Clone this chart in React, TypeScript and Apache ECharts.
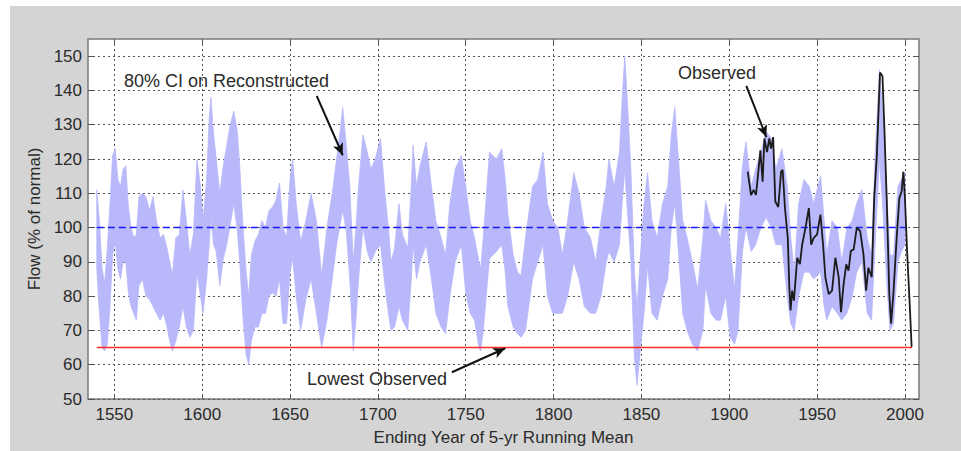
import React, { useEffect, useRef } from "react";
import * as echarts from "echarts";

// 80% confidence interval on the reconstructed flow (% of normal)
const bandYears = [
  1540, 1541.5, 1543, 1544.5, 1546, 1547.5, 1549, 1550.5, 1552, 1553.5, 1555, 1556.5, 1558, 1559.5, 1561, 1562.5,
  1564, 1566, 1568, 1570, 1572, 1574, 1576, 1578, 1580, 1581.5, 1583, 1585, 1587, 1589, 1591, 1593, 1595, 1597,
  1599, 1600.5, 1602.5, 1604, 1605, 1606.5, 1608, 1610, 1612, 1614, 1616, 1618, 1620, 1621.5, 1623, 1625, 1626.5,
  1628, 1630, 1632, 1634, 1636, 1638, 1640, 1642, 1644, 1646, 1648, 1650, 1651.5, 1653.5, 1656, 1659, 1662, 1665,
  1668, 1671, 1674, 1676.5, 1678.5, 1680, 1682, 1684, 1686, 1687.5, 1689, 1691.5, 1694, 1696, 1698.5, 1701.5, 1704,
  1706, 1707.5, 1709.5, 1712, 1714, 1717, 1719, 1720, 1722, 1724, 1727.5, 1730.5, 1733, 1736, 1738.5, 1741, 1744,
  1747.5, 1750, 1752.5, 1755, 1757.5, 1758.5, 1760, 1763.5, 1767.5, 1770.5, 1772.5, 1774, 1777, 1779.5, 1781.5,
  1784, 1788, 1791, 1794, 1796.5, 1799.5, 1802.5, 1805, 1808, 1811.5, 1814.5, 1817.5, 1821, 1824, 1827, 1830,
  1831.5, 1834.5, 1837.5, 1839, 1840.5, 1842, 1844, 1846, 1847.5, 1849.5, 1851.5, 1853.5, 1856, 1859, 1862, 1865,
  1867, 1869, 1871.5, 1873.5, 1876, 1879, 1882, 1885, 1886.5, 1889.5, 1892.5, 1895, 1898, 1900.5, 1903, 1905,
  1907.5, 1909.5, 1912.5, 1915, 1918, 1921, 1924, 1926.5, 1930, 1933, 1935, 1937, 1939.5, 1942.5, 1945.5, 1948,
  1952, 1954, 1955.5, 1958.5, 1961.5, 1964, 1967, 1970, 1972.5, 1975.5, 1978.5, 1981, 1983, 1985.5, 1987.5,
  1989.5, 1991.5, 1993.5, 1996, 1998, 2000,
];
const bandUpper = [
  111, 102, 88, 84, 94, 107, 121, 123, 114, 112, 117, 118, 106, 100, 97, 98,
  109, 110, 109, 105, 109, 102, 97, 98, 94, 90, 86, 97, 98, 111, 102, 92, 98, 120,
  112, 102, 114, 132, 138, 127, 120, 110, 118, 124, 130, 134, 128, 117, 102, 87, 80,
  92, 96, 98, 102, 100, 105, 106, 108, 113, 100, 97, 114, 120, 107, 96, 102, 110, 102,
  86, 100, 110, 120, 128, 135, 124, 112, 90, 100, 112, 127, 122, 117, 120, 126, 110,
  100, 90, 94, 107, 98, 94, 112, 124, 112, 118, 125, 112, 102, 97, 92, 107, 117,
  121, 112, 102, 97, 90, 88, 97, 122, 120, 123, 114, 104, 92, 87, 86,
  97, 112, 114, 122, 107, 102, 100, 92, 102, 116, 110, 100, 97, 90, 102, 112,
  120, 112, 122, 137, 150, 137, 117, 87, 77, 92, 107, 116, 102, 97, 107, 112,
  127, 135, 117, 102, 97, 90, 82, 97, 108, 102, 100, 97, 107, 94, 82, 97,
  118, 125, 112, 117, 122, 128, 126, 117, 123, 112, 97, 87, 107, 114, 112, 107,
  115, 102, 92, 102, 100, 90, 100, 102, 107, 111, 97, 92, 121, 146, 132,
  112, 92, 92, 112, 114, 116,
];
const bandLower = [
  88, 75, 65, 64, 66, 77, 92, 96, 88, 85, 90, 90, 81, 77, 75, 73,
  83, 85, 80, 79, 77, 75, 73, 75, 71, 67, 64, 67, 71, 77, 71, 68, 70, 87,
  80, 75, 85, 95, 103, 95, 93, 83, 91, 95, 101, 107, 99, 89, 75, 63, 60,
  67, 71, 71, 75, 75, 80, 81, 80, 85, 72, 72, 87, 91, 80, 70, 79, 85, 75,
  65, 73, 85, 95, 101, 105, 99, 85, 64, 73, 85, 100, 93, 90, 93, 95, 83,
  75, 70, 71, 77, 73, 70, 85, 95, 85, 90, 95, 85, 75, 71, 69, 80, 90,
  95, 81, 75, 73, 65, 64, 70, 91, 93, 95, 87, 77, 71, 69, 68,
  70, 85, 90, 95, 80, 75, 75, 75, 80, 90, 85, 77, 75, 75, 80, 90,
  93, 90, 95, 107, 117, 105, 90, 62, 54, 65, 75, 89, 75, 73, 80, 85,
  100, 107, 90, 75, 70, 66, 64, 70, 83, 75, 73, 73, 80, 68, 66, 70,
  93, 100, 93, 95, 100, 103, 100, 95, 95, 80, 72, 70, 80, 87, 87, 85,
  87, 77, 73, 77, 75, 73, 75, 80, 87, 90, 75, 73, 95, 120, 105,
  85, 70, 72, 90, 93, 95,
];

// Observed flow, 5-yr running mean (% of normal)
const obsYears = [
  1910.5, 1912.4, 1913.9, 1915.2, 1916.5, 1917.7, 1919, 1920, 1921.5, 1922.8, 1923.8, 1925, 1926.2, 1927.9,
  1929.5, 1930.4, 1931.7, 1933.3, 1934.2, 1934.9, 1935.8, 1936.8, 1938.7, 1940.2, 1941.5, 1943.4, 1945.3,
  1946.6, 1948.1, 1950, 1951.9, 1953.4, 1954.7, 1956.6, 1958.5, 1960.4, 1962.3, 1963.6, 1965.1, 1966.6, 1967.9,
  1969.2, 1970.8, 1972.6, 1974.5, 1976.4, 1977.9, 1979.2, 1981.1, 1982.5, 1984, 1985.8, 1987.2, 1988.3, 1989.6,
  1991.1, 1992.1, 1993.4, 1995.3, 1996.8, 1998.1, 1999.1, 2000, 2001.3, 2002.8, 2003.8,
];
const obsFlow = [
  116.3, 109.5, 111, 109.5, 116, 122.5, 113.4, 126, 122, 126, 123, 126.4, 107.6, 106,
  116.3, 116.8, 105.7, 97, 82.6, 75.8, 81.6, 78.7, 91.2, 89.3, 95, 100, 105.7,
  95, 97, 98, 103.8, 95, 85.5, 80.6, 81.6, 91.2, 85.5, 75.3, 83.5, 89.3, 87.4,
  93.2, 93.6, 100, 99, 92.2, 81.6, 88.3, 85.5, 108.6, 121, 145.2, 144.2, 128.8, 108.6,
  80.6, 72, 80.6, 97, 108.6, 110.5, 116.3, 108.6, 92.2, 76.8, 65.2,
];

const normalYears = [1540, 2001];
const normalFlow = [100, 100];
const lowestYears = [1540, 2004];
const lowestFlow = [65, 65];

const xTicks = [1550, 1600, 1650, 1700, 1750, 1800, 1850, 1900, 1950, 2000];
const yTicks = [50, 60, 70, 80, 90, 100, 110, 120, 130, 140, 150];

const xTitle = "Ending Year of 5-yr Running Mean";
const yTitle = "Flow (% of normal)";
const ciLabel = "80% CI on Reconstructed";
const obsLabel = "Observed";
const lowLabel = "Lowest Observed";

const FONT = "'Liberation Sans', Arial, sans-serif";
const TXT = "#2b2b2b";

export default function App() {
  const ref = useRef<HTMLDivElement>(null);
  useEffect(() => {
    if (!ref.current) return;
    const chart = echarts.init(ref.current, undefined, { renderer: "svg" });
    const zip = (xs: number[], ys: number[]) => xs.map((x, i) => [x, ys[i]]);
    const tickStyle = { color: "#555", width: 1 };
    const arrow = (a: number[], b: number[]) => [
      { coord: a, symbol: "none" },
      { coord: b, symbol: "arrow" },
    ];
    chart.setOption({
      animation: false,
      backgroundColor: "#ffffff",
      textStyle: { fontFamily: FONT },
      graphic: [
        { type: "rect", z: -10, shape: { x: 10, y: 6, width: 951, height: 445 }, style: { fill: "#d4d4d4" } },
        { type: "text", x: 124, y: 81, style: { text: ciLabel, font: `18px ${FONT}`, fill: TXT, verticalAlign: "middle" } },
        { type: "text", x: 678, y: 73, style: { text: obsLabel, font: `18px ${FONT}`, fill: TXT, verticalAlign: "middle" } },
        { type: "text", x: 307, y: 379, style: { text: lowLabel, font: `18px ${FONT}`, fill: TXT, verticalAlign: "middle" } },
      ],
      grid: {
        left: 88, top: 39, right: 42, bottom: 48,
        show: true, backgroundColor: "#ffffff", borderColor: "#7a7a7a", borderWidth: 1.5,
      },
      xAxis: [
        {
          type: "value", min: 1535, max: 2008, position: "bottom",
          name: xTitle, nameLocation: "middle", nameGap: 30,
          nameTextStyle: { fontSize: 17, color: TXT, fontFamily: FONT },
          axisLine: { show: false },
          axisTick: { inside: true, length: 5, customValues: xTicks, lineStyle: tickStyle },
          axisLabel: {
            customValues: xTicks, fontSize: 17, color: TXT, margin: 7, fontFamily: FONT,
            formatter: (v: number) => String(v),
          },
          splitLine: { show: true, lineStyle: { type: [2, 3], color: "#555", width: 1 } },
        },
        {
          type: "value", min: 1535, max: 2008, position: "top",
          axisLine: { show: false },
          axisTick: { inside: true, length: 5, customValues: xTicks, lineStyle: tickStyle },
          axisLabel: { show: false },
          splitLine: { show: false },
        },
      ],
      yAxis: [
        {
          type: "value", min: 50, max: 155, position: "left",
          name: yTitle, nameLocation: "middle", nameGap: 44,
          nameTextStyle: { fontSize: 17, color: TXT, fontFamily: FONT },
          axisLine: { show: false },
          axisTick: { inside: true, length: 5, customValues: yTicks, lineStyle: tickStyle },
          axisLabel: { customValues: yTicks, fontSize: 17, color: TXT, margin: 6, fontFamily: FONT },
          splitLine: { show: true, lineStyle: { type: [2, 3], color: "#555", width: 1 } },
        },
        {
          type: "value", min: 50, max: 155, position: "right",
          axisLine: { show: false },
          axisTick: { inside: true, length: 5, customValues: yTicks, lineStyle: tickStyle },
          axisLabel: { show: false },
          splitLine: { show: false },
        },
      ],
      series: [
        {
          type: "custom",
          coordinateSystem: "cartesian2d",
          silent: true,
          z: 1,
          data: [[bandYears[0], bandLower[0]]],
          encode: { x: 0, y: 1 },
          renderItem: (_p: any, api: any) => {
            const pts: number[][] = [];
            for (let i = 0; i < bandYears.length; i++) pts.push(api.coord([bandYears[i], bandUpper[i]]));
            for (let i = bandYears.length - 1; i >= 0; i--) pts.push(api.coord([bandYears[i], bandLower[i]]));
            return { type: "polygon", shape: { points: pts }, style: { fill: "#b8b8fb", stroke: "#b8b8fb", lineWidth: 0.8 } };
          },
        },
        {
          type: "line", z: 3, symbol: "none", silent: true,
          data: zip(normalYears, normalFlow),
          lineStyle: { color: "#1a1aff", width: 1.6, type: [7, 4] },
        },
        {
          type: "line", z: 3, symbol: "none", silent: true,
          data: zip(lowestYears, lowestFlow),
          lineStyle: { color: "#ff2a2a", width: 1.6 },
        },
        {
          type: "line", z: 4, symbol: "none", silent: true,
          data: zip(obsYears, obsFlow),
          lineStyle: { color: "#1c1c1c", width: 1.8 },
          markLine: {
            silent: true,
            symbolSize: [8, 12],
            label: { show: false },
            lineStyle: { color: "#111", width: 2, type: "solid" },
            data: [
              arrow([1665.2, 138.4], [1680.0, 121.1]),
              arrow([1909.7, 141.3], [1921.1, 126.4]),
              arrow([1742.1, 57.8], [1772.5, 64.8]),
            ],
          },
        },
      ],
    });
    return () => chart.dispose();
  }, []);
  return <div ref={ref} style={{ position: "fixed", left: 0, top: 0, width: 961, height: 451 }} />;
}
